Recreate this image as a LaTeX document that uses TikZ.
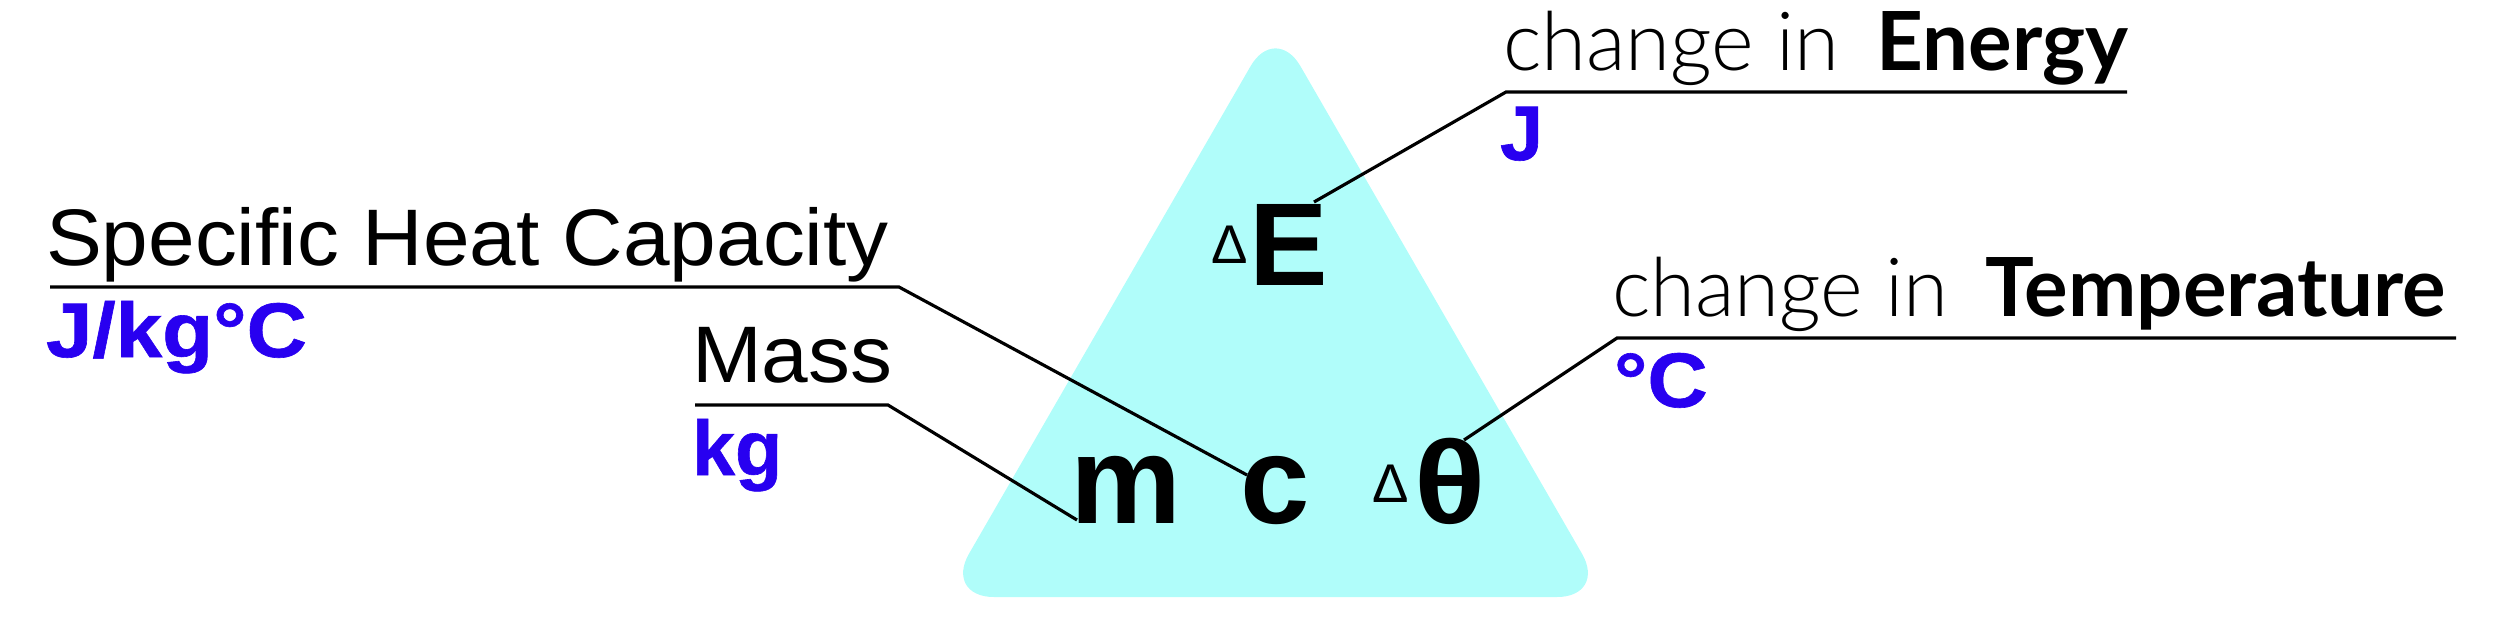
\documentclass[tikz,border=0pt]{standalone}
\usepackage{fontspec}
\setmainfont{Liberation Sans}
\newfontfamily\regw{Liberation Sans}[FakeStretch=1.045]
\newfontfamily\unitw{Liberation Sans}[FakeStretch=1.08,FakeBold=0.8]
\newfontfamily\unitn{Liberation Sans}[FakeBold=0.8]
\newfontfamily\thetaf{Liberation Sans}[FakeStretch=1.12]
\newfontfamily\lightf{Lato Light}
\newfontfamily\latof{Lato}
\definecolor{unitblue}{RGB}{40,0,240}
\definecolor{trifill}{RGB}{176,253,250}
\tikzset{
  lbl/.style={inner sep=0pt, outer sep=0pt, anchor=base west, font=\fontsize{22.8pt}{27pt}\selectfont\regw},
  hdr/.style={inner sep=0pt, outer sep=0pt, anchor=base west, font=\fontsize{23.2pt}{27pt}\selectfont},
  unit/.style={inner sep=0pt, outer sep=0pt, anchor=base west, text=unitblue, font=\fontsize{22pt}{26pt}\selectfont\unitn\bfseries},
  unitwide/.style={unit, font=\fontsize{22pt}{26pt}\selectfont\unitw\bfseries},
  big/.style={inner sep=0pt, outer sep=0pt, anchor=base west, font=\fontsize{34pt}{40pt}\selectfont\bfseries},
  delta/.style={inner sep=0pt, outer sep=0pt, anchor=base west, font=\fontsize{15.5pt}{18pt}\selectfont},
  conn/.style={draw=black, line width=0.9pt, line join=miter},
}
\begin{document}
\begin{tikzpicture}[x=0.01cm,y=-0.01cm]
\useasboundingbox (0,0) rectangle (2500,626);
% triangle
\coordinate (tA) at (1275.5,23);
\coordinate (tL) at (944,597);
\coordinate (tR) at (1607,597);
\fill[trifill, rounded corners=0.5cm] (tA) -- (tR) -- (tL) -- cycle;
% big letters
\node[big, font=\fontsize{33.5pt}{40pt}\selectfont\bfseries] (E) at (1249,285) {E};
\node[delta] (dE) at (1211,263) {Δ};
\node[big, font=\fontsize{35.5pt}{40pt}\selectfont\bfseries] (m) at (1070,523) {m};
\node[big, font=\fontsize{35.5pt}{40pt}\selectfont\bfseries] (c) at (1240,523) {c};
\node[delta] (dT) at (1372,502) {Δ};
\node[big, font=\fontsize{33.5pt}{40pt}\selectfont\thetaf\bfseries] (th) at (1414,523) {θ};
% labels
\node[lbl] (shc) at (46,265) {Specific Heat Capacity};
\node[unitwide] (shcU) at (46,357) {J/kg°C};
\node[lbl] (mass) at (692,382) {Mass};
\node[unit] (massU) at (692,475) {kg};
\node[hdr] (en) at (1503,70) {{\lightf change in}\hspace{0.37cm}{\latof\bfseries Energy}};
\node[unit] (enU) at (1500,160) {J};
\node[hdr] (te) at (1612,316) {{\lightf change in}\hspace{0.37cm}{\latof\bfseries Temperature}};
\node[unitwide] (teU) at (1614,407) {°C};
% connector coordinates
\coordinate (shcL) at (50,287);
\coordinate (shcB) at (899,287);
\coordinate (cEnd) at (1247,475);
\coordinate (massL) at (695,405);
\coordinate (massB) at (888,405);
\coordinate (mEnd) at (1077,520);
\coordinate (enR) at (2127,92);
\coordinate (enB) at (1506,92);
\coordinate (EEnd) at (1314,202);
\coordinate (teR) at (2456,338);
\coordinate (teB) at (1617,338);
\coordinate (thEnd) at (1464,440);
\draw[conn] (shcL) -- (shcB) -- (cEnd);
\draw[conn] (massL) -- (massB) -- (mEnd);
\draw[conn] (enR) -- (enB) -- (EEnd);
\draw[conn] (teR) -- (teB) -- (thEnd);
\end{tikzpicture}
\end{document}
